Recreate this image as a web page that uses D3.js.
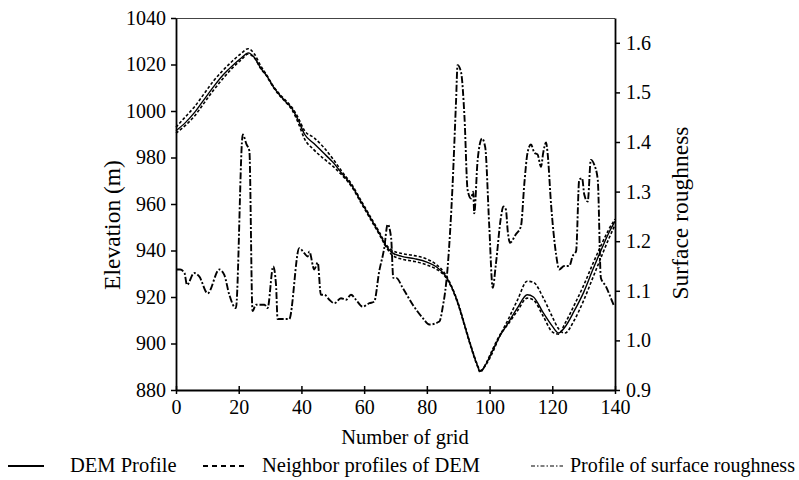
<!DOCTYPE html>
<html><head><meta charset="utf-8">
<script src="https://cdn.jsdelivr.net/npm/d3@7"></script>
<style>body{margin:0;background:#fff}svg{display:block}text{font-family:"Liberation Serif","Times New Roman",serif;fill:#000}</style>
</head><body><svg id="c" width="799" height="480"></svg>
<script>
const xTicks = [0,20,40,60,80,100,120,140];
const elevTicks = [880,900,920,940,960,980,1000,1020,1040];
const roughTicks = [0.9,1.0,1.1,1.2,1.3,1.4,1.5,1.6];

const demGrid = [0,3,6,9,12,15,18,21,23,25,27,29,31,33,35,37,39,41,44,47,50,53,56,59,62,65,67,69,72,76,80,83,86,88,90,92,94,96,97,99,101,103,106,109,112,114,117,120,122,124,127,130,133,136,138,140];
const demElev = [991.5,995,999.5,1005,1010.5,1015.5,1019.5,1023,1025,1023,1018.5,1015,1010.5,1007,1004,1001,996,990,986,982,978,973,968,961,954,947,942,939,937.5,936.5,935,933,929,924,917,908,899,891,888,891.5,897,902.5,909,915.5,921,920,913.5,907.5,904.5,907,914,922,932,941.5,947.5,952.5];
const nbAElev = [993,997.5,1002,1007.5,1013,1017.5,1021.5,1025,1026.8,1024.5,1019.5,1015.3,1010.8,1007.3,1004.5,1001.5,997,991.5,988.5,984.5,979.5,973.8,968.5,961.5,954.5,947.5,942.5,940,938.7,937.8,936.3,934,929.5,924.3,917.3,908.3,899.3,891.3,888.3,891.2,896.3,902.5,910.5,919,926.8,926.3,920,911.5,906.3,904.5,910,918.5,928.5,938.5,945,951];
const nbBElev = [990.5,993.8,998,1003.5,1009,1014,1018.5,1022.3,1024.5,1022.8,1018.3,1014.8,1010.3,1006.7,1003.8,1000.5,994.8,988,983.3,979.6,976.3,972.3,967.5,960.5,953.5,946.5,941.5,938,936.3,935.3,933.8,932,928.5,923.7,916.7,907.7,898.7,890.7,887.7,891.8,897.6,903,908.5,914.3,919.5,918.7,912,905,904,908.5,916.5,925,934.5,943.5,949,953.5];

const roughGrid = [0.3,1.3,2.7,3.5,5.8,7.4,10.1,13.8,15.4,17,19.1,21.3,22.5,23.4,24.4,25.5,28.2,29.2,31,31.9,32.4,35.1,36.1,39.3,40.9,42,42.5,44.1,45.2,46.2,47.3,48.9,50.5,52.6,54.2,55.8,57.4,59.5,61.7,63.2,64.8,66.4,67.5,68.6,69.3,70.2,72.3,75.5,78.7,80.8,84,85,86.6,88.2,89.3,89.8,90.9,92,93,94.1,94.8,95.1,96.2,97.6,98.6,99.9,101,102,103.6,104.4,105.2,105.8,106.5,108.4,110,111.1,112.1,113.2,114.3,115.3,116.4,117.1,118,118.5,119.6,121.2,122.2,123.8,125.4,126.5,127.6,128.6,129.5,130.2,131.3,132.3,133.4,134.5,135.5,137.1,138.7,139.8];
const roughVal = [1.143,1.143,1.136,1.112,1.136,1.129,1.095,1.143,1.132,1.092,1.065,1.415,1.395,1.382,1.059,1.072,1.072,1.065,1.149,1.112,1.043,1.043,1.043,1.186,1.176,1.169,1.179,1.143,1.157,1.092,1.092,1.082,1.075,1.085,1.082,1.092,1.082,1.068,1.075,1.078,1.139,1.186,1.234,1.207,1.126,1.126,1.106,1.072,1.045,1.032,1.038,1.065,1.145,1.313,1.481,1.555,1.541,1.45,1.303,1.286,1.3,1.256,1.364,1.407,1.39,1.23,1.106,1.153,1.247,1.27,1.264,1.22,1.197,1.214,1.23,1.317,1.378,1.395,1.378,1.375,1.35,1.378,1.399,1.378,1.275,1.174,1.143,1.15,1.15,1.17,1.18,1.324,1.327,1.294,1.28,1.364,1.354,1.324,1.126,1.109,1.085,1.068];

const L = 176, R = 615, T = 18, B = 390;
const svg = d3.select("#c");
const x = d3.scaleLinear().domain([0,140]).range([L,R]);
const yE = d3.scaleLinear().domain([880,1040]).range([B,T]);
const yR = d3.scaleLinear().domain([0.9,1.65]).range([B,T]);

// frame top
svg.append("line").attr("x1",L).attr("x2",R).attr("y1",T+0.5).attr("y2",T+0.5).attr("stroke","#444").attr("stroke-width",1.2);

const fs = 20;
const gx = svg.append("g").attr("transform",`translate(0,${B})`)
  .call(d3.axisBottom(x).tickValues(xTicks).tickFormat(d3.format("d")).tickSizeInner(4).tickSizeOuter(0).tickPadding(6));
gx.selectAll(".tick line").attr("y1",-4);
const gl = svg.append("g").attr("transform",`translate(${L},0)`)
  .call(d3.axisLeft(yE).tickValues(elevTicks).tickFormat(d3.format("d")).tickSizeInner(5).tickSizeOuter(0).tickPadding(5));
const gr = svg.append("g").attr("transform",`translate(${R},0)`)
  .call(d3.axisRight(yR).tickValues(roughTicks).tickFormat(d3.format(".1f")).tickSizeInner(5).tickSizeOuter(0).tickPadding(6));
[gx,gl,gr].forEach(g=>{
  g.selectAll("path.domain").attr("stroke","#000").attr("stroke-width",1.8);
  g.selectAll(".tick line").attr("stroke","#000").attr("stroke-width",1.5);
  g.selectAll("text").style("font-family",'"Liberation Serif",serif').style("font-size",fs+"px").attr("fill","#000");
});

// titles
svg.append("text").attr("x",405).attr("y",444).attr("text-anchor","middle").style("font-size","20.5px").text("Number of grid");
svg.append("text").attr("transform","translate(120,225) rotate(-90)").attr("text-anchor","middle").style("font-size","23.5px").text("Elevation (m)");
svg.append("text").attr("transform","translate(688,213) rotate(-90)").attr("text-anchor","middle").style("font-size","23.5px").text("Surface roughness");

const lineE = (grid, vals) => d3.line().x((d,i)=>x(grid[i])).y(d=>yE(d)).curve(d3.curveMonotoneX)(vals);
const lineR = d3.line().x((d,i)=>x(roughGrid[i])).y(d=>yR(d)).curve(d3.curveMonotoneX);

const plot = svg.append("g");
plot.append("path").attr("d",lineE(demGrid,nbAElev)).attr("fill","none").attr("stroke","#000").attr("stroke-width",1.6).attr("stroke-dasharray","3,2");
plot.append("path").attr("d",lineE(demGrid,nbBElev)).attr("fill","none").attr("stroke","#000").attr("stroke-width",1.6).attr("stroke-dasharray","3,2");
plot.append("path").attr("d",lineE(demGrid,demElev)).attr("fill","none").attr("stroke","#000").attr("stroke-width",1.4);
plot.append("path").attr("d",lineR(roughVal)).attr("fill","none").attr("stroke","#000").attr("stroke-width",1.9).attr("stroke-dasharray","7,2,2,2");

// legend
const ly = 466;
const leg = svg.append("g");
leg.append("line").attr("x1",8).attr("x2",44).attr("y1",ly).attr("y2",ly).attr("stroke","#000").attr("stroke-width",1.8);
leg.append("text").attr("x",70).attr("y",ly+6).style("font-size","20.5px").text("DEM Profile");
leg.append("line").attr("x1",203).attr("x2",246).attr("y1",ly).attr("y2",ly).attr("stroke","#000").attr("stroke-width",1.8).attr("stroke-dasharray","5,4");
leg.append("text").attr("x",262).attr("y",ly+6).style("font-size","20.5px").text("Neighbor profiles of DEM");
leg.append("line").attr("x1",531).attr("x2",563).attr("y1",ly).attr("y2",ly).attr("stroke","#000").attr("stroke-width",1.2).attr("stroke-dasharray","4,2,1.5,2");
leg.append("text").attr("x",570).attr("y",ly+6).style("font-size","20px").text("Profile of surface roughness");
</script></body></html>
